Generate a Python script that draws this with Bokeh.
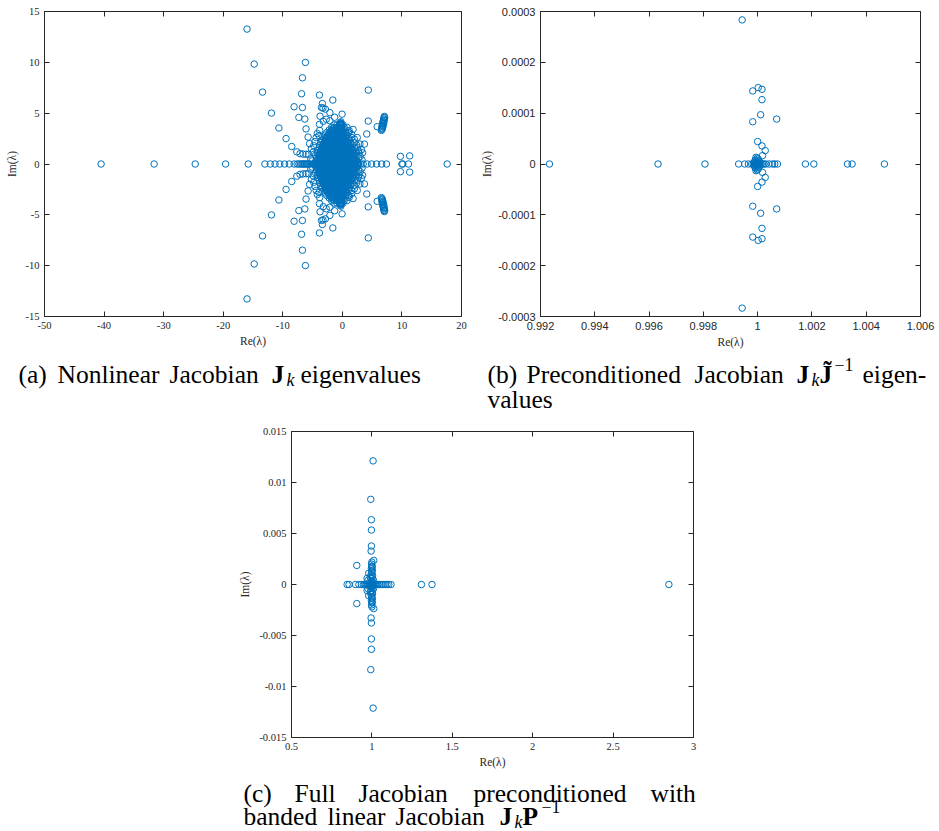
from bokeh.plotting import figure
from bokeh.models import Range1d, FixedTicker, LinearAxis, CustomJSTickFormatter, Label, Spacer
from bokeh.layouts import column, row
from bokeh.embed import file_html
from bokeh.resources import INLINE

# ---------------- data: panel (a) nonlinear Jacobian eigenvalues ----------------
a_real_axis = [-40.5, -31.6, -24.7, -19.6, -15.8, -13.0, -12.1, -11.3, -10.5, -9.7, -8.9, -8.1,
               -7.6, -7.3, -7.0, -6.8, -6.6, -6.4, -6.2, -6.0, -5.8, -5.6, -5.35,
               -4.9, -4.5, -4.1, -3.7, -3.3, -2.9, -2.5, -2.1, -1.7, -1.3, -0.9, -0.5, -0.1,
               0.3, 0.7, 1.1, 1.5, 1.9, 2.3, 2.7, 3.1, 3.5, 4.15, 4.9, 5.75, 6.6, 7.4,
               10.0, 10.15, 11.1, 17.6]
# complex eigenvalues (upper half-plane; conjugates are added below)
a_outer_re = [-16.0, -14.8, -13.4, -11.9, -10.65, -9.45, -8.5, -7.65, -7.1, -6.6, -6.1, -5.7,
              -8.1, -7.3, -6.7, -6.3, -6.85, -6.7, -6.2, -6.1, -5.75, -5.5, -5.2, -4.9,
              -3.85, -3.35, -3.5, -3.25, -2.85, -3.75, -3.85, -3.8, -3.9, -1.6, -2.1, -2.1, -0.05,
              -1.3, -2.7, -3.2, -0.35, -0.3, -0.3, -0.25, -0.2, -0.4, -0.15, -0.35,
              4.35, 4.35, 4.1, 3.7, 3.4, 5.85, 1.15, 1.55, 2.0, 2.4, 2.95, 2.7, 3.0,
              6.55, 6.6, 6.62, 6.68, 6.7, 6.75, 6.8, 6.85, 6.9, 6.95, 7.0, 7.05, 6.7, 6.85, 6.95,
              7.05, 7.1, 9.75, 11.3,
              -4.6, -4.4, -4.2, -4.8, 1.8, 0.8, 2.5, 3.2, 3.3, -5.3, -5.1]
a_outer_im = [13.27, 9.83, 7.07, 5.01, 3.54, 2.5, 1.72, 1.2, 1.02, 0.98, 0.96, 0.95,
              5.63, 4.58, 5.56, 4.42, 6.91, 8.48, 9.99, 3.45, 2.65, 2.0, 1.5, 1.15,
              6.78, 5.95, 5.55, 5.5, 5.4, 4.7, 3.9, 3.3, 2.8, 6.29, 5.05, 4.25, 4.9,
              4.6, 4.4, 4.2, 3.75, 3.9, 4.05, 4.15, 3.95, 3.85, 3.8, 4.0,
              7.27, 4.22, 2.95, 1.96, 1.1, 3.67, 3.28, 2.9, 2.45, 1.85, 1.96, 1.3, 0.75,
              3.3, 3.42, 3.55, 3.68, 3.8, 3.93, 4.05, 4.18, 4.3, 4.42, 4.55, 4.68, 3.45, 3.75, 4.0,
              4.3, 4.55, 0.75, 0.8,
              2.2, 2.6, 3.0, 1.8, 3.4, 3.6, 2.6, 1.4, 0.4, 0.5, 0.3]
# dense cluster, row by row (imag part, real parts)
a_blob_rows = [
    (0.12, [-4.6, -4.1, -3.7, -3.2, -2.8, -2.3, -1.9, -1.4, -1.0, -0.5, -0.1, 0.4, 0.8, 1.3, 1.7, 2.2, 2.6]),
    (0.24, [-3.8, -3.35, -2.9, -2.45, -2.0, -1.55, -1.1, -0.65, -0.2, 0.25, 0.7, 1.15, 1.6, 2.05]),
    (0.35, [-4.4, -3.9, -3.5, -3.0, -2.6, -2.1, -1.7, -1.2, -0.8, -0.3, 0.1, 0.6, 1.0, 1.5, 1.9, 2.4]),
    (0.48, [-3.9, -3.45, -3.0, -2.55, -2.1, -1.65, -1.2, -0.75, -0.3, 0.15, 0.6, 1.05, 1.5, 1.95]),
    (0.6, [-4.3, -3.8, -3.3, -2.9, -2.4, -2.0, -1.5, -1.1, -0.6, -0.2, 0.3, 0.7, 1.2, 1.6, 2.1, 2.7]),
    (0.72, [-3.75, -3.3, -2.85, -2.4, -1.95, -1.5, -1.05, -0.6, -0.15, 0.3, 0.75, 1.2, 1.65]),
    (0.85, [-4.5, -4.0, -3.6, -3.1, -2.7, -2.2, -1.8, -1.3, -0.9, -0.4, 0.0, 0.5, 0.9, 1.4, 1.8, 2.3]),
    (0.97, [-3.85, -3.4, -2.95, -2.5, -2.05, -1.6, -1.15, -0.7, -0.25, 0.2, 0.65, 1.1, 1.55, 2.0]),
    (1.1, [-4.2, -3.7, -3.2, -2.8, -2.3, -1.9, -1.4, -1.0, -0.5, -0.1, 0.4, 0.8, 1.3, 1.7, 2.2, 2.8]),
    (1.22, [-3.6, -3.15, -2.7, -2.25, -1.8, -1.35, -0.9, -0.45, 0.0, 0.45, 0.9, 1.35]),
    (1.35, [-4.1, -3.6, -3.1, -2.7, -2.2, -1.8, -1.3, -0.9, -0.4, 0.0, 0.5, 0.9, 1.4, 1.9]),
    (1.47, [-3.5, -3.05, -2.6, -2.15, -1.7, -1.25, -0.8, -0.35, 0.1, 0.55, 1.0, 1.45]),
    (1.6, [-3.9, -3.4, -3.0, -2.5, -2.1, -1.6, -1.2, -0.7, -0.3, 0.2, 0.6, 1.1, 1.5, 2.0, 2.5]),
    (1.72, [-3.4, -2.95, -2.5, -2.05, -1.6, -1.15, -0.7, -0.25, 0.2, 0.65, 1.1]),
    (1.85, [-3.8, -3.3, -2.9, -2.4, -2.0, -1.5, -1.1, -0.6, -0.2, 0.3, 0.7, 1.2, 1.7]),
    (1.97, [-3.2, -2.75, -2.3, -1.85, -1.4, -0.95, -0.5, -0.05, 0.4, 0.85]),
    (2.1, [-3.6, -3.1, -2.7, -2.2, -1.8, -1.3, -0.9, -0.4, 0.0, 0.5, 0.9, 1.4, 2.0]),
    (2.22, [-3.0, -2.55, -2.1, -1.65, -1.2, -0.75, -0.3, 0.15, 0.6]),
    (2.35, [-3.4, -2.9, -2.5, -2.0, -1.6, -1.1, -0.7, -0.2, 0.2, 0.7, 1.2]),
    (2.47, [-2.8, -2.35, -1.9, -1.45, -1.0, -0.55, -0.1, 0.35]),
    (2.6, [-3.1, -2.7, -2.2, -1.8, -1.3, -0.9, -0.4, 0.0, 0.5, 1.0, 1.6]),
    (2.72, [-2.5, -2.05, -1.6, -1.15, -0.7, -0.25, 0.2]),
    (2.85, [-2.9, -2.4, -2.0, -1.5, -1.1, -0.6, -0.2, 0.3, 0.8]),
    (2.97, [-2.2, -1.75, -1.3, -0.85, -0.4, 0.05]),
    (3.1, [-2.6, -2.1, -1.7, -1.2, -0.8, -0.3, 0.1, 0.6, 1.1]),
    (3.22, [-1.9, -1.45, -1.0, -0.55, -0.1]),
    (3.35, [-2.2, -1.8, -1.3, -0.9, -0.4, 0.0, 0.5]),
    (3.47, [-1.5, -1.05, -0.6, -0.15]),
    (3.6, [-1.8, -1.3, -0.9, -0.5, -0.1, 0.3]),
    (3.85, [-1.4, -0.9, -0.5, -0.2, 0.1]),
]

# ---------------- data: panel (b) preconditioned with J~ ----------------
b_real_axis = [0.99233, 0.99633, 0.99806, 0.99930, 0.99952, 0.99966, 0.99978, 0.99984, 0.99988,
               0.99991, 0.99994, 0.99997, 1.0, 1.00003, 1.00006, 1.00009, 1.00013, 1.00018,
               1.00024, 1.0003, 1.00042, 1.00055, 1.00063, 1.00073, 1.00176, 1.00207,
               1.00331, 1.00348, 1.00467]
b_cplx_re = [0.99943, 1.00002, 0.99982, 1.00016, 1.00016, 1.00011, 0.99982, 1.0007, 1.0,
             1.00016, 1.00028, 1.00018, 0.99994, 0.99998, 1.00002, 0.99991, 1.00005, 0.99996,
             1.0, 0.99988, 1.00008, 0.99993, 1.00003]
b_cplx_im = [0.0002835, 0.0001503, 0.0001437, 0.000147, 0.0001266, 0.0000969, 0.0000831,
             0.0000884, 0.0000442, 0.0000356, 0.0000264, 0.0000165, 0.0000132, 0.0000115,
             0.0000098, 0.0000075, 0.0000065, 0.000005, 0.000003, 0.000004, 0.0000035,
             0.0000022, 0.0000015]

# ---------------- data: panel (c) preconditioned with banded P ----------------
c_real_axis = [0.846, 0.858, 0.898, 0.919, 0.935, 0.948, 0.958, 0.966, 0.973, 0.979, 0.985,
               0.99, 0.995, 1.0, 1.005, 1.01, 1.016, 1.022, 1.03, 1.038, 1.047, 1.058, 1.07,
               1.083, 1.094, 1.105, 1.119, 1.308, 1.374, 2.847]
c_cplx_re = [1.0075, 0.993, 0.997, 0.997, 0.997, 0.995, 1.0116, 0.906, 1.0, 0.998, 1.002,
             0.997, 1.003, 0.999, 0.995, 1.004, 0.98, 0.99, 1.001, 0.975, 1.01, 0.996, 1.006,
             0.985, 1.0, 0.97, 1.0, 0.999, 1.001]
c_cplx_im = [0.01212, 0.00835, 0.00635, 0.00534, 0.00377, 0.00328, 0.00236, 0.00187, 0.0022,
             0.002, 0.0018, 0.0016, 0.0014, 0.0012, 0.001, 0.0009, 0.0011, 0.0007, 0.0006,
             0.0004, 0.0004, 0.0003, 0.0002, 0.0002, 0.0001, 0.0006, 0.0017, 0.0013, 0.0008]

# ---------------- tick values / labels ----------------
a_xticks = [-50, -40, -30, -20, -10, 0, 10, 20]
a_xlabels = ["-50", "-40", "-30", "-20", "-10", "0", "10", "20"]
a_yticks = [-15, -10, -5, 0, 5, 10, 15]
a_ylabels = ["-15", "-10", "-5", "0", "5", "10", "15"]
b_xticks = [0.992, 0.994, 0.996, 0.998, 1.0, 1.002, 1.004, 1.006]
b_xlabels = ["0.992", "0.994", "0.996", "0.998", "1", "1.002", "1.004", "1.006"]
b_yticks = [-0.0003, -0.0002, -0.0001, 0.0, 0.0001, 0.0002, 0.0003]
b_ylabels = ["-0.0003", "-0.0002", "-0.0001", "0", "0.0001", "0.0002", "0.0003"]
c_xticks = [0.5, 1.0, 1.5, 2.0, 2.5, 3.0]
c_xlabels = ["0.5", "1", "1.5", "2", "2.5", "3"]
c_yticks = [-0.015, -0.01, -0.005, 0.0, 0.005, 0.01, 0.015]
c_ylabels = ["-0.015", "-0.01", "-0.005", "0", "0.005", "0.01", "0.015"]

# ---------------- captions: (text, style, relative size, x) per line ----------------
cap_ab_line1 = [("(a)", "normal", 1, 18), ("Nonlinear", "normal", 1, 57), ("Jacobian", "normal", 1, 169),
                ("J", "bold", 1, 271), ("k", "italic", 0.7, 286), ("eigenvalues", "normal", 1, 300),
                ("(b)", "normal", 1, 487), ("Preconditioned", "normal", 1, 526), ("Jacobian", "normal", 1, 694),
                ("J", "bold", 1, 796), ("k", "italic", 0.7, 811), ("J\u0303", "bold", 1, 819),
                ("\u22121", "normal", 0.7, 834), ("eigen-", "normal", 1, 862)]
cap_ab_line2 = [("values", "normal", 1, 487)]
cap_c_line1 = [("(c)", "normal", 1, 243), ("Full", "normal", 1, 294), ("Jacobian", "normal", 1, 358),
               ("preconditioned", "normal", 1, 473), ("with", "normal", 1, 650)]
cap_c_line2 = [("banded", "normal", 1, 243), ("linear", "normal", 1, 327), ("Jacobian", "normal", 1, 395),
               ("J", "bold", 1, 499), ("k", "italic", 0.7, 514), ("P", "bold", 1, 522),
               ("\u22121", "normal", 0.7, 541)]


def conj_pairs(real_axis, re_up, im_up):
    xs = list(real_axis) + list(re_up) + list(re_up)
    ys = [0.0] * len(real_axis) + list(im_up) + [-v for v in im_up]
    return xs, ys


blob_re = [x for (y, row_x) in a_blob_rows for x in row_x]
blob_im = [y for (y, row_x) in a_blob_rows for x in row_x]
a_x, a_y = conj_pairs(a_real_axis, a_outer_re + blob_re, a_outer_im + blob_im)
b_x, b_y = conj_pairs(b_real_axis, b_cplx_re, b_cplx_im)
c_x, c_y = conj_pairs(c_real_axis, c_cplx_re, c_cplx_im)

BLUE = "#0072BD"
AX = "#262626"
SERIF = "Liberation Serif"
SANS = "Liberation Sans"
CAP_SIZE = 25.5
JS = """
let best = 0, bd = Infinity;
for (let i = 0; i < tv.length; i++) { const d = Math.abs(tv[i] - tick); if (d < bd) { bd = d; best = i; } }
return tl[best];
"""


def style_axis(ax, ticks, labels, font, size, show):
    ax.ticker = FixedTicker(ticks=ticks)
    ax.major_tick_in = 5
    ax.major_tick_out = 0
    ax.minor_tick_line_color = None
    ax.axis_line_color = AX
    ax.major_tick_line_color = AX
    if show:
        ax.formatter = CustomJSTickFormatter(args=dict(tv=ticks, tl=labels), code=JS)
        ax.major_label_text_color = AX
        ax.major_label_text_font = font
        ax.major_label_text_font_size = size
        ax.major_label_standoff = 5
    else:
        ax.major_label_text_color = None
        ax.major_label_text_font_size = "1px"
        ax.major_label_standoff = 0


def make_panel(width, height, bl, br, bt, bb, xr, yr, xt, xl, yt, yl, font, size, xs, ys, lstand):
    p = figure(width=width, height=height, x_range=Range1d(*xr), y_range=Range1d(*yr),
               output_backend="svg", toolbar_location=None,
               min_border_left=bl, min_border_right=br, min_border_top=bt, min_border_bottom=bb)
    p.grid.grid_line_color = None
    p.outline_line_color = None
    p.background_fill_color = "white"
    p.border_fill_color = "white"
    p.add_layout(LinearAxis(), "above")
    p.add_layout(LinearAxis(), "right")
    for ax in p.xaxis:
        style_axis(ax, xt, xl, font, size, False)
    for ax in p.yaxis:
        style_axis(ax, yt, yl, font, size, False)
    style_axis(p.below[0], xt, xl, font, size, True)
    style_axis(p.left[0], yt, yl, font, size, True)
    p.below[0].axis_label = "Re(λ)"
    p.left[0].axis_label = "Im(λ)"
    for ax in (p.below[0], p.left[0]):
        ax.axis_label_text_font = SERIF
        ax.axis_label_text_font_size = "11.5px"
        ax.axis_label_text_font_style = "normal"
        ax.axis_label_text_color = AX
    p.below[0].axis_label_standoff = 3
    p.left[0].axis_label_standoff = lstand
    p.scatter(xs, ys, marker="circle", size=6.5, fill_color=None, line_color=BLUE, line_width=1)
    return p


def caption_fig(width, height, lines):
    p = figure(width=width, height=height, x_range=Range1d(0, width), y_range=Range1d(height, 0),
               output_backend="svg", toolbar_location=None, x_axis_location=None,
               y_axis_location=None, min_border=0)
    p.grid.visible = False
    p.outline_line_color = None
    p.border_fill_color = "white"
    p.background_fill_color = "white"
    for baseline, words in lines:
        for text, style, rel, x in words:
            dy = 0
            if rel < 1:
                dy = 5 if style == "italic" else -10
            p.add_layout(Label(x=x, y=baseline + dy, text=text, text_font=SERIF,
                               text_font_size=f"{CAP_SIZE * rel:.1f}px", text_font_style=style,
                               text_color="black", text_baseline="alphabetic", text_align="left"))
    return p


# row 1 (page y 0..350)
pa = make_panel(478, 350, 44, 17, 11, 33, (-50, 20), (-15, 15), a_xticks, a_xlabels,
                a_yticks, a_ylabels, SERIF, "10.5px", a_x, a_y, 5)
pb = make_panel(461, 350, 57, 19, 11, 33, (0.992, 1.006), (-0.0003, 0.0003), b_xticks, b_xlabels,
                b_yticks, b_ylabels, SANS, "11px", b_x, b_y, 2)
# captions (a), (b): page y 350..425
cap_ab = caption_fig(939, 75, [(24, cap_ab_line1), (49, cap_ab_line2)])
# row 2 (page y 425..770)
pc = make_panel(480, 345, 61, 17, 6, 33, (0.5, 3.0), (-0.015, 0.015), c_xticks, c_xlabels,
                c_yticks, c_ylabels, SERIF, "10.5px", c_x, c_y, 5)
# caption (c): page y 770..830
cap_c = caption_fig(939, 60, [(23, cap_c_line1), (46, cap_c_line2)])

layout = column(row(pa, pb), cap_ab, row(Spacer(width=230, height=345), pc), cap_c)
open("out.html", "w").write(file_html(layout, INLINE))
